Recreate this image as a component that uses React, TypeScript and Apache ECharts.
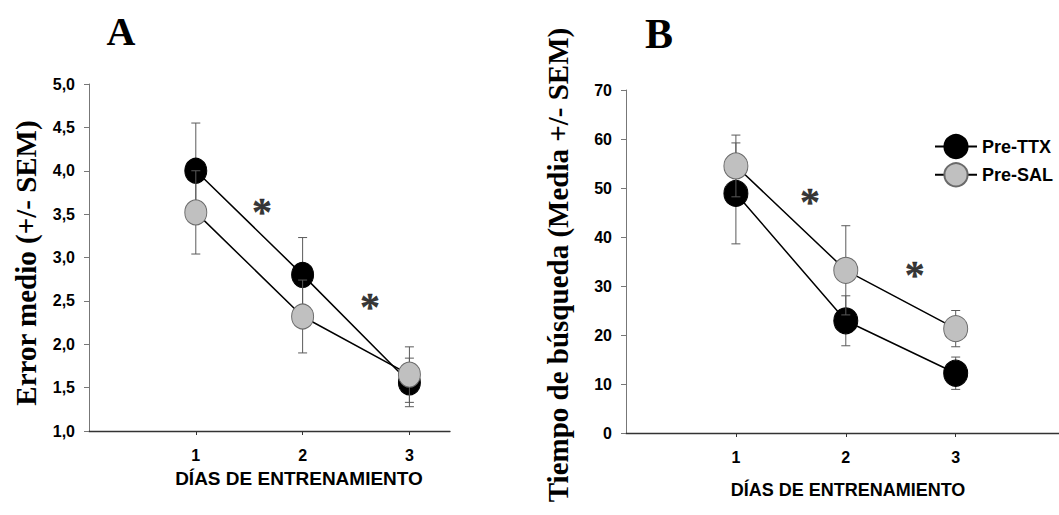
import React, { useEffect, useRef } from 'react';
import * as echarts from 'echarts';

// ---- data ----
const days = [1, 2, 3];
const dayLabels = ['1', '2', '3'];

const aTtxMean = [4.0, 2.8, 1.56];
const aTtxSem = [0.55, 0.43, 0.28];
const aSalMean = [3.52, 2.32, 1.65];
const aSalSem = [0.48, 0.42, 0.32];

const bTtxMean = [48.9, 22.9, 12.2];
const bTtxSem = [10.3, 5.1, 3.3];
const bSalMean = [54.5, 33.2, 21.3];
const bSalSem = [6.3, 9.1, 3.7];

const aStarX = [1.62, 2.63];
const aStarY = [3.59, 2.49];
const bStarX = [1.675, 2.627];
const bStarY = [48.2, 33.3];

const aYMin = 1, aYMax = 5, aYStep = 0.5;
const bYMin = 0, bYMax = 70, bYStep = 10;

const seriesNames = ['Pre-TTX', 'Pre-SAL'];
const panelLabels = ['A', 'B'];
const xTitle = 'DÍAS DE ENTRENAMIENTO';
const aYTitle = 'Error medio (+/- SEM)';
const bYTitle = 'Tiempo de búsqueda (Media +/- SEM)';

const SANS = '"Liberation Sans", Arial, sans-serif';
const SERIF = '"Liberation Serif", "Times New Roman", serif';

const errRender = (params: any, api: any) => {
  const x = api.value(0);
  const lo = api.coord([x, api.value(1)]);
  const hi = api.coord([x, api.value(2)]);
  const w = 4.5;
  const style = { stroke: '#5a5a5a', lineWidth: 1 };
  return {
    type: 'group',
    children: [
      { type: 'line', shape: { x1: lo[0], y1: lo[1], x2: hi[0], y2: hi[1] }, style },
      { type: 'line', shape: { x1: lo[0] - w, y1: lo[1], x2: lo[0] + w, y2: lo[1] }, style },
      { type: 'line', shape: { x1: hi[0] - w, y1: hi[1], x2: hi[0] + w, y2: hi[1] }, style },
    ],
  };
};

const errData = (mean: number[], sem: number[]) =>
  days.map((d, i) => [d, mean[i] - sem[i], mean[i] + sem[i]]);

const ttxStyle = { color: '#000', borderColor: '#000', borderWidth: 1 };
const salStyle = { color: '#c0c0c0', borderColor: '#6a6a6a', borderWidth: 1 };

function makeX(grid: number, max: number) {
  return {
    type: 'value',
    gridIndex: grid,
    min: 0,
    max,
    interval: 1,
    axisLine: { show: true, lineStyle: { color: '#333', width: 1.3 } },
    axisTick: { show: true, length: 4, lineStyle: { color: '#333' }, customValues: days },
    axisLabel: {
      customValues: days,
      formatter: (v: number) => dayLabels[days.indexOf(v)] ?? '',
      margin: 16,
      fontSize: 16,
      fontWeight: 'bold',
      fontFamily: SANS,
      color: '#000',
    },
    splitLine: { show: false },
  };
}

function makeY(grid: number, min: number, max: number, step: number, fmt: (v: number) => string) {
  return {
    type: 'value',
    gridIndex: grid,
    min,
    max,
    interval: step,
    axisLine: { show: true, lineStyle: { color: '#777', width: 1 } },
    axisTick: { show: true, length: 5, lineStyle: { color: '#777' } },
    axisLabel: {
      formatter: fmt,
      margin: 14,
      fontSize: 16,
      fontWeight: 'bold',
      fontFamily: SANS,
      color: '#000',
    },
    splitLine: { show: false },
  };
}

function lineSeries(name: string, grid: number, mean: number[], style: any, size: number[], z: number) {
  return {
    type: 'line',
    name,
    xAxisIndex: grid,
    yAxisIndex: grid,
    data: days.map((d, i) => [d, mean[i]]),
    symbol: 'circle',
    symbolSize: size,
    itemStyle: style,
    lineStyle: { color: '#000', width: 1.5 },
    z,
    silent: true,
  };
}

function errSeries(name: string, grid: number, mean: number[], sem: number[], z: number) {
  return {
    type: 'custom',
    name,
    xAxisIndex: grid,
    yAxisIndex: grid,
    data: errData(mean, sem),
    encode: { x: 0, y: [1, 2] },
    renderItem: errRender,
    z,
    silent: true,
  };
}

function starSeries(name: string, grid: number, xs: number[], ys: number[]) {
  return {
    type: 'scatter',
    name,
    xAxisIndex: grid,
    yAxisIndex: grid,
    data: xs.map((x, i) => [x, ys[i]]),
    symbolSize: 1,
    itemStyle: { color: 'rgba(0,0,0,0)' },
    label: {
      show: true,
      position: 'inside',
      formatter: '*',
      fontSize: 40,
      fontWeight: 'bold',
      fontFamily: SERIF,
      color: '#000',
      textBorderColor: '#000',
      textBorderWidth: 0.4,
      offset: [0, 5],
    },
    z: 10,
    silent: true,
  };
}

export default function App() {
  const ref = useRef<HTMLDivElement>(null);
  useEffect(() => {
    if (!ref.current) return;
    const chart = echarts.init(ref.current, undefined, { renderer: 'svg' });
    chart.setOption({
      animation: false,
      backgroundColor: '#fff',
      grid: [
        { left: 89, top: 84, width: 361, height: 347 },
        { left: 626, top: 90, width: 433, height: 343 },
      ],
      xAxis: [makeX(0, 3.38), makeX(1, 3.94)],
      yAxis: [
        makeY(0, aYMin, aYMax, aYStep, (v: number) => v.toFixed(1).replace('.', ',')),
        makeY(1, bYMin, bYMax, bYStep, (v: number) => String(v)),
      ],
      legend: {
        show: true,
        orient: 'vertical',
        left: 929,
        top: 129,
        itemWidth: 42,
        itemHeight: 29,
        itemGap: 3,
        selectedMode: false,
        data: seriesNames,
        textStyle: { fontSize: 18, fontWeight: 'bold', fontFamily: SANS, color: '#000' },
      },
      series: [
        errSeries('errA-TTX', 0, aTtxMean, aTtxSem, 2),
        lineSeries(seriesNames[0], 0, aTtxMean, ttxStyle, [22, 25], 3),
        errSeries('errA-SAL', 0, aSalMean, aSalSem, 4),
        lineSeries(seriesNames[1], 0, aSalMean, salStyle, [22, 25], 5),
        errSeries('errB-TTX', 1, bTtxMean, bTtxSem, 2),
        lineSeries(seriesNames[0], 1, bTtxMean, ttxStyle, [24, 26], 3),
        errSeries('errB-SAL', 1, bSalMean, bSalSem, 4),
        lineSeries(seriesNames[1], 1, bSalMean, salStyle, [24, 26], 5),
        starSeries('starsA', 0, aStarX, aStarY),
        starSeries('starsB', 1, bStarX, bStarY),
      ],
      graphic: [
        {
          type: 'text', x: 121, y: 31,
          style: { text: panelLabels[0], fontSize: 40, fontWeight: 'bold', fontFamily: SERIF, fill: '#000', align: 'center', verticalAlign: 'middle' },
        },
        {
          type: 'text', x: 659, y: 34,
          style: { text: panelLabels[1], fontSize: 42, fontWeight: 'bold', fontFamily: SERIF, fill: '#000', align: 'center', verticalAlign: 'middle' },
        },
        {
          type: 'text', x: 26, y: 263, rotation: Math.PI / 2,
          style: { text: aYTitle, fontSize: 29, fontWeight: 'bold', fontFamily: SERIF, fill: '#000', align: 'center', verticalAlign: 'middle' },
        },
        {
          type: 'text', x: 558, y: 265, rotation: Math.PI / 2,
          style: { text: bYTitle, fontSize: 29, fontWeight: 'bold', fontFamily: SERIF, fill: '#000', align: 'center', verticalAlign: 'middle' },
        },
        {
          type: 'text', x: 299, y: 478,
          style: { text: xTitle, fontSize: 19, fontWeight: 'bold', fontFamily: SANS, fill: '#000', align: 'center', verticalAlign: 'middle' },
        },
        {
          type: 'text', x: 848, y: 490,
          style: { text: xTitle, fontSize: 18, fontWeight: 'bold', fontFamily: SANS, fill: '#000', align: 'center', verticalAlign: 'middle' },
        },
      ],
    });
    return () => chart.dispose();
  }, []);
  return (
    <div
      ref={ref}
      style={{ position: 'fixed', left: 0, top: 0, width: 1059, height: 515, background: '#fff' }}
    />
  );
}
